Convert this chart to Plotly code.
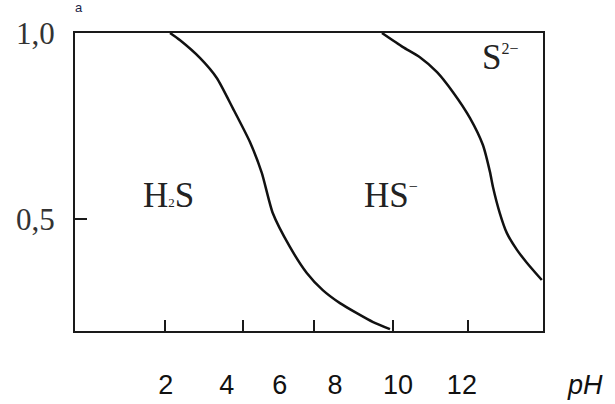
import plotly.graph_objects as go

# Curve 1: H2S -> HS- boundary (pH, fraction)
c1_ph = [2.14, 2.47, 3.15, 3.72, 4.26, 4.84, 5.24, 5.61, 6.19, 6.76, 7.30, 7.88, 8.45, 9.00, 9.57]
c1_frac = [1.0, 0.981, 0.933, 0.879, 0.798, 0.707, 0.624, 0.516, 0.425, 0.355, 0.309, 0.274, 0.247, 0.223, 0.204]

# Curve 2: HS- -> S2- boundary
c2_ph = [9.30, 10.01, 10.58, 11.16, 11.70, 12.27, 12.71, 12.95, 13.05, 13.28, 13.52, 13.86, 14.20, 14.70]
c2_frac = [1.0, 0.962, 0.935, 0.895, 0.841, 0.772, 0.699, 0.626, 0.586, 0.516, 0.462, 0.417, 0.382, 0.336]

# x tick labels (as placed in the picture) and tick marks
x_label_pos = [2.0, 4.06, 5.85, 7.71, 9.84, 12.0]
x_label_text = ["2", "4", "6", "8", "10", "12"]
x_tick_marks = [1.97, 4.60, 7.00, 9.67, 12.20]

y_tick_vals = [0.5, 1.0]
y_tick_text = ["0,5", "1,0"]

species = ["H<span style='font-size:13px'>2</span>S",
           "HS<sup><span style='font-size:16px'>−</span></sup>",
           "S<sup><span style='font-size:16px'>2−</span></sup>"]
species_x = [2.1, 9.6, 13.3]
species_y = [0.563, 0.563, 0.935]

fig = go.Figure()
for xs, ys in [(c1_ph, c1_frac), (c2_ph, c2_frac)]:
    fig.add_trace(go.Scatter(x=xs, y=ys, mode="lines",
                             line=dict(color="#111111", width=2.5, shape="spline", smoothing=0.6),
                             showlegend=False, hoverinfo="skip"))

serif = "Liberation Serif, Times New Roman, serif"
for t, x, y in zip(species, species_x, species_y):
    fig.add_annotation(x=x, y=y, text=t, showarrow=False, xref="x", yref="y",
                       font=dict(family=serif, size=35, color="#222222"))

fig.add_annotation(x=1.0, y=-0.18, xref="paper", yref="paper", xanchor="left", yanchor="middle",
                   xshift=22, text="<i>pH</i>", showarrow=False,
                   font=dict(family="Liberation Sans, Arial, sans-serif", size=27, color="#111111"))
fig.add_annotation(x=-0.004, y=1.0, xref="paper", yref="paper", yanchor="bottom", yshift=16,
                   text="a", showarrow=False,
                   font=dict(family="Liberation Sans, Arial, sans-serif", size=13, color="#1c2448"))

fig.update_layout(
    width=615, height=404,
    margin=dict(l=75, r=72, t=33, b=73),
    paper_bgcolor="white", plot_bgcolor="white",
    xaxis=dict(range=[-1.07, 14.74], showgrid=False, zeroline=False, automargin=False,
               showline=True, linecolor="#1a1a1a", linewidth=2, mirror=True,
               tickmode="array", tickvals=x_label_pos, ticktext=x_label_text,
               ticks="", ticklabelstandoff=29,
               tickfont=dict(family="Liberation Sans, Arial, sans-serif", size=27, color="#111111"),
               minor=dict(tickmode="array", tickvals=x_tick_marks, ticks="inside",
                          ticklen=11, tickwidth=2, tickcolor="#1a1a1a", showgrid=False)),
    yaxis=dict(range=[0.199, 1.0], showgrid=False, zeroline=False, automargin=False,
               showline=True, linecolor="#1a1a1a", linewidth=2, mirror=True,
               tickmode="array", tickvals=y_tick_vals, ticktext=y_tick_text,
               ticks="inside", ticklen=12, tickwidth=2, tickcolor="#1a1a1a",
               ticklabelstandoff=12,
               tickfont=dict(family=serif, size=31, color="#333333")),
)

fig.write_html("out.html", config={"displayModeBar": False, "staticPlot": True})
with open("out.html", encoding="utf-8") as f:
    html = f.read()
html = html.replace("<head>", "<head><style>html,body{margin:0;padding:0;overflow:hidden}</style>", 1)
with open("out.html", "w", encoding="utf-8") as f:
    f.write(html)
